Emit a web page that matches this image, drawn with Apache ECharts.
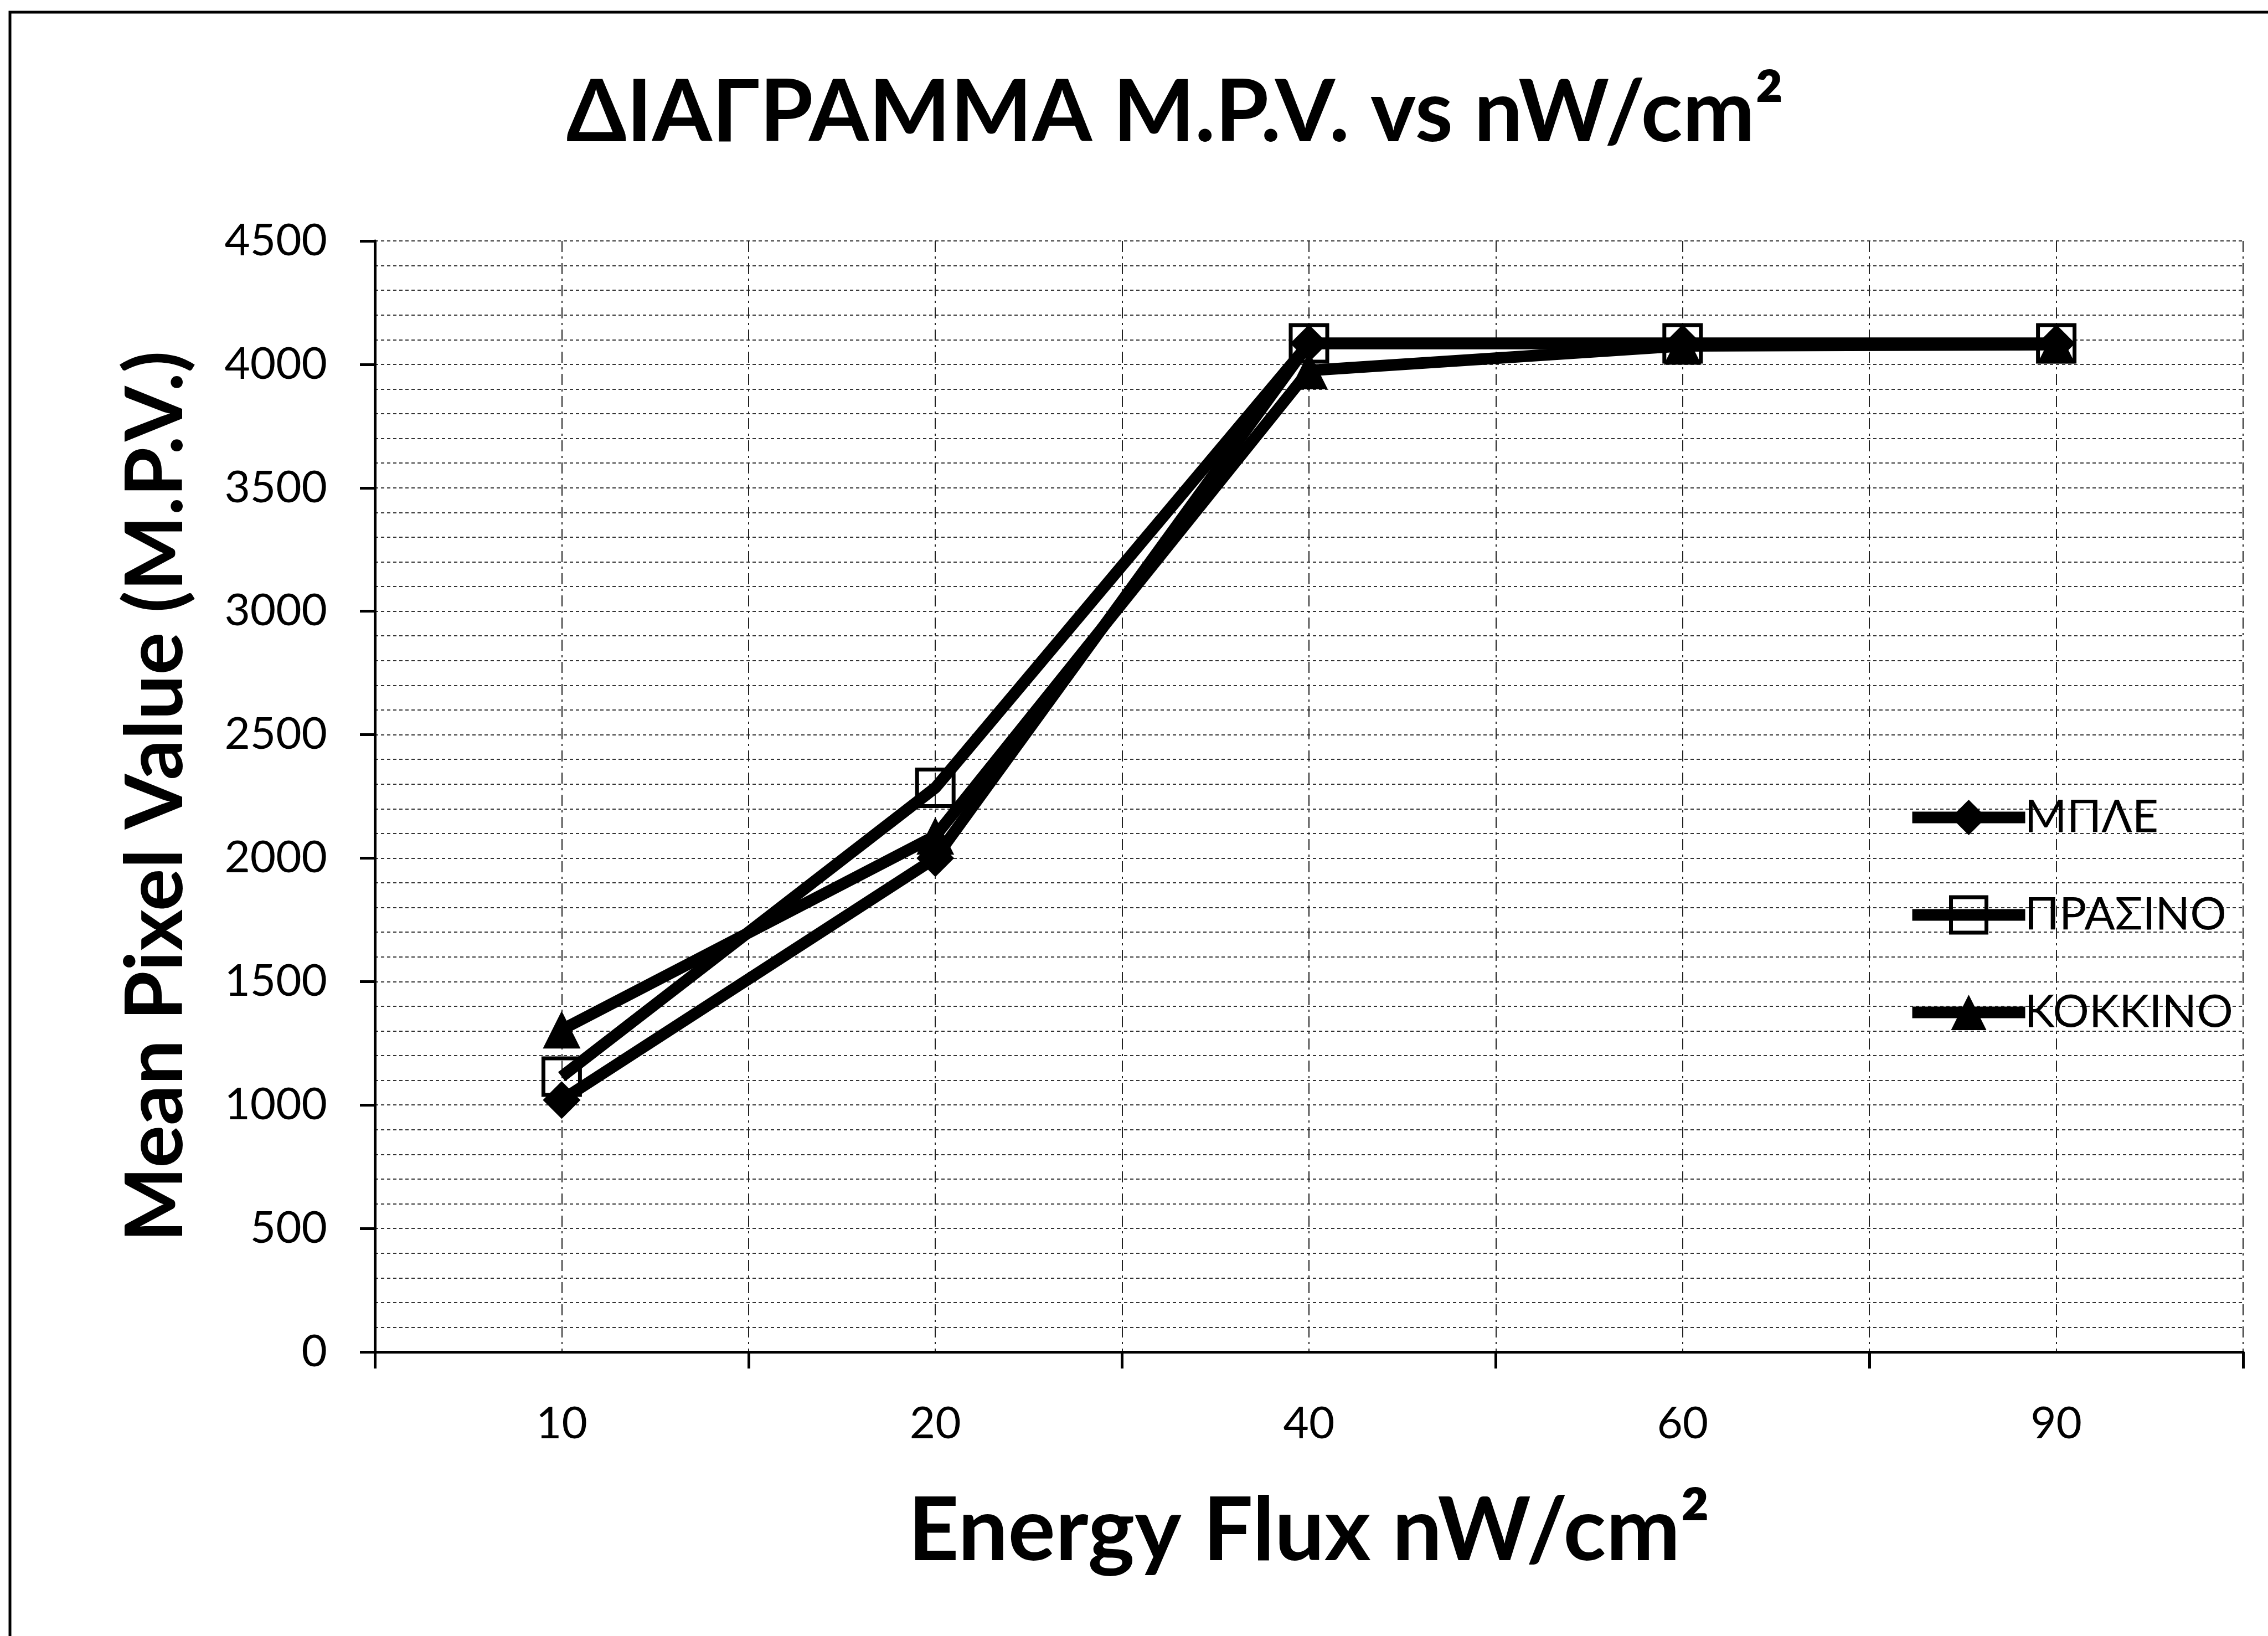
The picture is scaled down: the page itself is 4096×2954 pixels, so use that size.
<!DOCTYPE html>
<html>
<head>
<meta charset="utf-8">
<script src="https://cdn.jsdelivr.net/npm/echarts@6/dist/echarts.min.js"></script>
<style>
  html, body { margin: 0; padding: 0; background: #fff; }
  #chart { width: 4096px; height: 2954px; }
</style>
</head>
<body>
<div id="chart"></div>
<script>
// Energy flux levels (nW/cm²) on the category axis
const categories = ['10', '20', '40', '60', '90'];

// Mean pixel value per colour channel
const mpleValues = [1020, 2000, 4085, 4085, 4085];
const prasinoValues = [1115, 2285, 4085, 4085, 4085];
const kokkinoValues = [1305, 2090, 3975, 4075, 4080];

const seriesNames = ['ΜΠΛΕ', 'ΠΡΑΣΙΝΟ', 'ΚΟΚΚΙΝΟ'];

const FONT = 'Lato, "Open Sans", "Noto Sans", sans-serif';
const INK = '#000';

const chart = echarts.init(document.getElementById('chart'), null, { renderer: 'canvas' });

const lineWidth = 21;
const hollowSquare = { color: 'rgba(0,0,0,0)', borderColor: INK, borderWidth: 7 };

const option = {
  animation: false,
  backgroundColor: '#fff',
  textStyle: { fontFamily: FONT, color: INK },
  graphic: [
    {
      type: 'text',
      x: 2122,
      y: 205,
      style: {
        text: 'ΔΙΑΓΡΑΜΜΑ M.P.V. vs nW/cm²',
        fontFamily: FONT,
        fontSize: 156,
        fontWeight: 'bold',
        fill: INK,
        textAlign: 'center',
        textVerticalAlign: 'middle'
      }
    },
    {
      type: 'polyline',
      shape: { points: [[18, 2954], [18, 22], [4096, 22]] },
      style: { stroke: INK, lineWidth: 5, fill: null }
    }
  ],
  grid: { left: 677, right: 45, top: 435, bottom: 513, containLabel: false },
  legend: {
    orient: 'vertical',
    left: 3443,
    top: 1435,
    itemWidth: 204,
    itemHeight: 80,
    itemGap: 94,
    padding: 0,
    selectedMode: false,
    lineStyle: { width: lineWidth, color: INK },
    textStyle: { fontFamily: FONT, fontSize: 82, color: INK, lineHeight: 80, padding: [0, 0, 0, -6] },
    data: [
      { name: seriesNames[0] },
      { name: seriesNames[1], itemStyle: hollowSquare },
      { name: seriesNames[2] }
    ]
  },
  xAxis: [
    {
      type: 'category',
      data: categories,
      boundaryGap: true,
      axisLine: { show: true, lineStyle: { color: INK, width: 5 } },
      axisTick: { show: true, length: 30, lineStyle: { color: INK, width: 5 } },
      axisLabel: { margin: 90, fontSize: 80, color: INK, fontFamily: FONT },
      splitLine: { show: false },
      name: 'Energy Flux nW/cm²',
      nameLocation: 'middle',
      nameGap: 244,
      nameTextStyle: { fontSize: 160, fontWeight: 'bold', color: INK, fontFamily: FONT }
    },
    {
      // half-category vertical grid (centres and boundaries)
      type: 'value',
      min: 0,
      max: 5,
      interval: 0.5,
      axisLine: { show: false },
      axisTick: { show: false },
      axisLabel: { show: false },
      splitLine: { show: true, lineStyle: { color: '#222', width: 2, type: [20, 8, 4, 8] } }
    }
  ],
  yAxis: {
    type: 'value',
    min: 0,
    max: 4500,
    interval: 500,
    axisLine: { show: true, lineStyle: { color: INK, width: 5 } },
    axisTick: { show: true, length: 27, lineStyle: { color: INK, width: 5 } },
    axisLabel: {
      margin: 86,
      fontSize: 80,
      color: INK,
      fontFamily: FONT,
      formatter: (v) => String(v)
    },
    splitLine: { show: true, lineStyle: { color: '#333', width: 2, type: [6, 5] } },
    minorTick: { show: false, splitNumber: 5 },
    minorSplitLine: { show: true, lineStyle: { color: '#333', width: 2, type: [6, 5] } },
    name: 'Mean Pixel Value (M.P.V.)',
    nameLocation: 'middle',
    nameGap: 322,
    nameTextStyle: { fontSize: 144, fontWeight: 'bold', color: INK, fontFamily: FONT }
  },
  series: [
    {
      name: seriesNames[0],
      type: 'line',
      xAxisIndex: 0,
      data: mpleValues,
      symbol: 'diamond',
      symbolSize: 68,
      showAllSymbol: true,
      lineStyle: { color: INK, width: lineWidth },
      itemStyle: { color: INK, borderWidth: 0 }
    },
    {
      name: seriesNames[1],
      type: 'line',
      xAxisIndex: 0,
      data: prasinoValues,
      symbol: 'rect',
      symbolSize: 66,
      showAllSymbol: true,
      lineStyle: { color: INK, width: lineWidth },
      itemStyle: hollowSquare
    },
    {
      name: seriesNames[2],
      type: 'line',
      xAxisIndex: 0,
      data: kokkinoValues,
      symbol: 'triangle',
      symbolSize: 68,
      showAllSymbol: true,
      lineStyle: { color: INK, width: lineWidth },
      itemStyle: { color: INK, borderWidth: 0 }
    }
  ]
};

chart.setOption(option);
</script>
</body>
</html>
